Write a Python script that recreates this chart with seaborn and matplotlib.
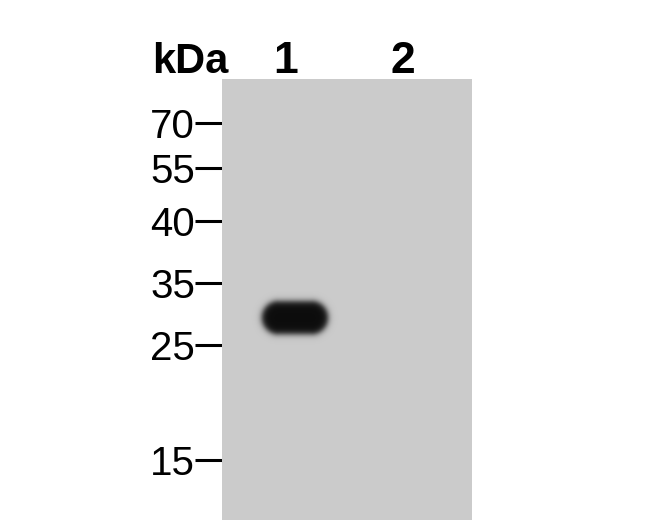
import numpy as np
import pandas as pd
import seaborn as sns
import matplotlib.pyplot as plt
import matplotlib.transforms as mtransforms

# Marker ladder (kDa) and migration distance from top of blot (px)
marker_kda = [70, 55, 40, 35, 25, 15]
marker_mig = [44, 89, 142, 204, 266, 381]

# Lanes and detected band
lanes = ['1', '2']
lane_label_x = [64, 181]      # label positions across blot (px)
band_lane_x = [73, 181]       # band centres across blot (px)
band_kda = [29, 29]
band_signal = [1.0, 0.0]

blot_w, blot_h = 250, 441
bg_level = 0.795
dark_level = 0.05

sns.set_theme(style="white")
plt.rcParams['font.family'] = ['Liberation Sans', 'DejaVu Sans']
plt.rcParams['text.color'] = 'black'
plt.rcParams['ytick.color'] = 'black'
plt.rcParams['xtick.color'] = 'black'

# position of the band from the ladder (log-linear interpolation)
lk = np.log(marker_kda)[::-1]
mg = np.array(marker_mig)[::-1]
band_y = [np.interp(np.log(k), lk, mg) for k in band_kda]

yy, xx = np.mgrid[0:blot_h, 0:blot_w] + 0.5
img = np.full((blot_h, blot_w), bg_level)
half_w, half_h = 33, 16.5
for cx, cy, s in zip(band_lane_x, band_y, band_signal):
    if s <= 0:
        continue
    dx = np.maximum(np.abs(xx - cx) - (half_w - half_h), 0)
    d = np.sqrt(dx ** 2 + (yy - cy) ** 2) - half_h
    blob = s / (1 + np.exp(d / 1.8))
    img = img - (bg_level - dark_level) * blob

df_blot = pd.DataFrame(img)

fig = plt.figure(figsize=(6.5, 5.2), dpi=100)
ax = fig.add_axes([222 / 650, 0, 250 / 650, 441 / 520])
sns.heatmap(df_blot, cmap='gray', vmin=0, vmax=1, cbar=False, ax=ax,
            xticklabels=False, yticklabels=False, rasterized=True)

ax.set_yticks(marker_mig)
ax.set_yticklabels([str(k) for k in marker_kda], fontsize=29, color='black')
ax.tick_params(axis='y', left=True, length=19.5, width=2.2, pad=0,
               color='black', direction='out')
ax.set_xticks([])

for sp in ax.spines.values():
    sp.set_visible(False)

# lane numbers above the blot
trans = mtransforms.blended_transform_factory(ax.transData, fig.transFigure)
for lx, lab in zip(lane_label_x, lanes):
    ax.text(lx, 1 - 73 / 520, lab, transform=trans, fontsize=32,
            fontweight='bold', ha='center', va='baseline')

fig.text(152 / 650, 1 - 73 / 520, 'kDa', fontsize=30, fontweight='bold',
         ha='left', va='baseline')

fig.savefig('out.png', dpi=100, facecolor='white')
